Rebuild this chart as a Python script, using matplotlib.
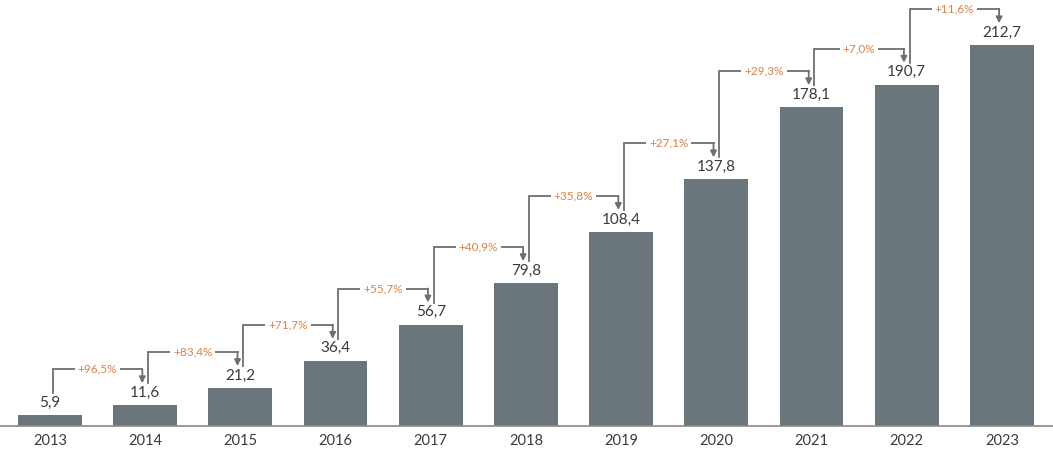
import matplotlib
matplotlib.use("Agg")
import matplotlib.pyplot as plt

plt.rcParams['font.family'] = ['Lato', 'DejaVu Sans']

years = ['2013', '2014', '2015', '2016', '2017', '2018', '2019', '2020', '2021', '2022', '2023']
values = [5.9, 11.6, 21.2, 36.4, 56.7, 79.8, 108.4, 137.8, 178.1, 190.7, 212.7]
growth = ['+96,5%', '+83,4%', '+71,7%', '+55,7%', '+40,9%', '+35,8%',
          '+27,1%', '+29,3%', '+7,0%', '+11,6%']

bar_color = '#6b757c'
arrow_color = '#6e6e6e'
pct_color = '#dc8048'

fig = plt.figure(figsize=(10.53, 4.49), dpi=100)
ax = fig.add_axes([0, 0.0512, 1, 0.9488])

x = list(range(len(years)))
ax.bar(x, values, width=0.67, color=bar_color, zorder=2)

for i, v in enumerate(values):
    ax.annotate(f"{v:.1f}".replace('.', ','), (i, v), xytext=(0, 4),
                textcoords='offset points', ha='center', va='bottom',
                fontsize=11, color='#3a3a3a')

# growth connectors
gap = 12.3   # space above bar top where line starts/ends
rise = 20.1  # horizontal segment above the next bar top
for i, g in enumerate(growth):
    x0 = i + 0.03
    x1 = i + 1 - 0.03
    y0 = values[i] + gap
    y1 = values[i + 1] + gap
    yh = values[i + 1] + rise
    ax.plot([x0, x0, x1], [y0, yh, yh], color=arrow_color, lw=1.3,
            solid_joinstyle='miter', zorder=3)
    ax.annotate('', xy=(x1, y1), xytext=(x1, yh),
                arrowprops=dict(arrowstyle='-|>', color=arrow_color, lw=1.3,
                                mutation_scale=9, shrinkA=0, shrinkB=0),
                zorder=3)
    ax.text((x0 + x1) / 2, yh, g, ha='center', va='center', fontsize=8.5,
            color=pct_color, zorder=4,
            bbox=dict(boxstyle='square,pad=0.25', fc='white', ec='none'))

ax.set_xlim(-0.525, 10.536)
ax.set_ylim(0, 238)
ax.set_xticks(x)
ax.set_xticklabels(years, fontsize=10.5, color='#3a3a3a')
ax.tick_params(axis='x', length=0, pad=6)
ax.set_yticks([])
for s in ['top', 'right', 'left']:
    ax.spines[s].set_visible(False)
ax.spines['bottom'].set_color('#8a8a8a')
ax.spines['bottom'].set_linewidth(1.2)

fig.savefig('out.png', dpi=100)
